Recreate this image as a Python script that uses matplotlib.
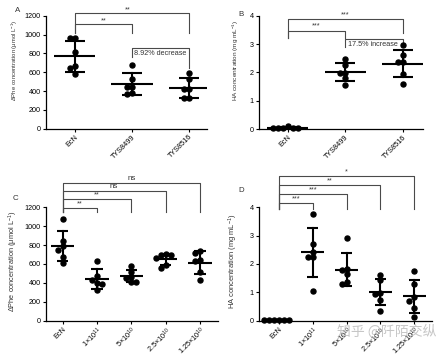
import matplotlib
matplotlib.use('Agg')
import matplotlib.pyplot as plt
import numpy as np

plt.rcParams['font.family'] = ['Liberation Sans', 'DejaVu Sans']
plt.rcParams['mathtext.fontset'] = 'custom'
plt.rcParams['mathtext.rm'] = 'Liberation Sans'
plt.rcParams['mathtext.it'] = 'Liberation Sans:italic'
plt.rcParams['mathtext.bf'] = 'Liberation Sans:bold'

# ---------------- data ----------------
strains = ['EcN', 'TYS8499', 'TYS8516']
phe_a = [[960, 960, 810, 670, 640, 580],
         [676, 527, 440, 440, 368, 375],
         [594, 527, 418, 418, 322, 322]]
ha_b = [[0.05, 0.03, 0.03, 0.04, 0.12, 0.03],
        [2.46, 2.26, 1.99, 1.99, 1.81, 1.55],
        [2.97, 2.61, 2.38, 2.38, 1.94, 1.59]]
doses = ['EcN', r'1×10$^{11}$', r'5×10$^{10}$', r'2.5×10$^{10}$', r'1.25×10$^{10}$']
phe_c = [[1076, 847, 794, 748, 671, 607],
         [632, 476, 431, 396, 384, 325],
         [579, 519, 466, 448, 413, 413],
         [705, 690, 690, 590, 560, 660],
         [741, 720, 642, 635, 519, 431]]
ha_d = [[0.02, 0.01, 0.03, 0.02, 0.01, 0.02],
        [3.75, 2.69, 2.43, 2.26, 2.26, 1.06],
        [2.91, 1.79, 1.82, 1.64, 1.28, 1.35],
        [1.61, 1.44, 0.93, 0.97, 0.73, 0.34],
        [1.75, 1.28, 0.85, 0.70, 0.46, 0.12]]
pct_a = '8.92% decrease'
pct_b = '17.5% increase'
sig_a = ['**', '**']
sig_b = ['***', '***']
sig_c = ['**', '**', 'ns', 'ns']
sig_d = ['***', '***', '**', '*']
ylab_phe = r'ΔPhe concentration (μmol L$^{-1}$)'
ylab_ha = r'HA concentration (mg mL$^{-1}$)'

# ---------------- figure ----------------
W, H = 445, 356
fig = plt.figure(figsize=(W / 100, H / 100), dpi=100)

def axes_px(x0, x1, ytop, ybot):
    return fig.add_axes([x0 / W, 1 - ybot / H, (x1 - x0) / W, (ybot - ytop) / H])

FS = 5.2
LINE = '#4a4a4a'
TXT = '#333333'

def style(ax, labels, ylim, yticks):
    ax.set_ylim(*ylim)
    ax.set_yticks(yticks)
    ax.set_xticks(range(len(labels)))
    ax.set_xticklabels(labels, rotation=45, ha='right', rotation_mode='anchor', fontsize=FS)
    ax.tick_params(axis='y', labelsize=FS, length=2.2, width=0.8, pad=1.5)
    ax.tick_params(axis='x', length=2.2, width=0.8, pad=1.2)
    for s in ['top', 'right']:
        ax.spines[s].set_visible(False)
    for s in ['left', 'bottom']:
        ax.spines[s].set_linewidth(0.9)
    ax.patch.set_alpha(0)

def swarm_x(ax, xc, vals, d_px):
    vals = np.asarray(vals, float)
    pts = ax.transData.transform(np.column_stack([np.full(len(vals), xc), vals]))
    order = np.argsort(-vals, kind='stable')
    placed = []
    out = np.zeros(len(vals))
    for i in order:
        px, py = pts[i]
        for k in [0, -1, 1, -2, 2, -3, 3, -4, 4]:
            cx = px + k * d_px
            if all((cx - qx) ** 2 + (py - qy) ** 2 >= (0.95 * d_px) ** 2 for qx, qy in placed):
                break
        placed.append((cx, py))
        out[i] = ax.transData.inverted().transform((cx, py))[0]
    return out

def scatter_panel(ax, groups, mean_hw, cap_hw):
    for i, vals in enumerate(groups):
        m = np.mean(vals)
        sd = np.std(vals, ddof=1)
        ax.plot([i - mean_hw, i + mean_hw], [m, m], color='black', lw=1.5, solid_capstyle='butt', zorder=3)
        ax.plot([i, i], [m - sd, m + sd], color='black', lw=1.5, zorder=3)
        for yy in (m - sd, m + sd):
            ax.plot([i - cap_hw, i + cap_hw], [yy, yy], color='black', lw=1.5, solid_capstyle='butt', zorder=3)
        xs = swarm_x(ax, i, vals, 5.0)
        ax.plot(xs, vals, 'o', color='black', ms=3.6, mec='black', zorder=4, clip_on=False)

def bracket(ax, x0, x1, y, yl, yr):
    ax.plot([x0, x0, x1, x1], [yl, y, y, yr], color=LINE, lw=0.8, clip_on=False, zorder=2)

def label(ax, x, y, t, fs=FS):
    ax.text(x, y, t, ha='center', va='center', fontsize=fs, color=TXT, clip_on=False)

def ylabel_at(ax, text, fs, xp, yp):
    ax.set_ylabel(text, fontsize=fs, color=TXT)
    pos = ax.get_position()
    ax.yaxis.set_label_coords((xp - pos.x0 * W) / (pos.width * W),
                              ((H - yp) - pos.y0 * H) / (pos.height * H))

# ---- A ----
axA = axes_px(45.7, 207, 15.7, 128.7)
axA.set_xlim(-0.51, 2.31)
style(axA, strains, (0, 1200), range(0, 1201, 200))
scatter_panel(axA, phe_a, 0.36, 0.175)
bracket(axA, 0, 2, 1225, 1015, 1015)
bracket(axA, 0, 1, 1111, 1015, 1015)
label(axA, 0.92, 1262, sig_a[1])
label(axA, 0.5, 1146, sig_a[0])
bracket(axA, 1, 2, 860, 764, 644)
axA.text(1.04, 800, pct_a, ha='left', va='center', fontsize=FS, color=TXT)
ylabel_at(axA, ylab_phe, 4.2, 20, 60)

# ---- B ----
axB = axes_px(259, 423, 15.7, 129)
axB.set_xlim(-0.5, 2.35)
style(axB, strains, (0, 4), range(0, 5))
scatter_panel(axB, ha_b, 0.36, 0.175)
bracket(axB, 0, 2, 3.89, 3.2, 3.4)
bracket(axB, 0, 1, 3.47, 3.2, 3.2)
label(axB, 1.0, 4.03, sig_b[1])
label(axB, 0.5, 3.64, sig_b[0])
bracket(axB, 1, 2, 3.17, 2.91, 3.08)
axB.text(1.04, 2.97, pct_b, ha='left', va='center', fontsize=FS, color=TXT)
ylabel_at(axB, ylab_ha, 4.6, 240.7, 60)

# ---- C ----
axC = axes_px(45.7, 218, 207.3, 320.7)
axC.set_xlim(-0.49, 4.52)
style(axC, doses, (0, 1200), range(0, 1201, 200))
scatter_panel(axC, phe_c, 0.34, 0.165)
c_levels = [1196, 1285, 1372, 1460]
c_text = [1240, 1330, 1420, 1500]
for k in range(4):
    bracket(axC, 0, k + 1, c_levels[k], 1147, 1147)
    label(axC, (k + 1) / 2, c_text[k], sig_c[k], fs=FS + 0.6 if sig_c[k] == 'ns' else FS)
ylabel_at(axC, ylab_phe, 5.3, 20, 261)

# ---- D ----
axD = axes_px(259, 432, 207.3, 320.7)
axD.set_xlim(-0.59, 4.53)
style(axD, doses, (0, 4), range(0, 5))
scatter_panel(axD, ha_d, 0.34, 0.165)
d_levels = [4.16, 4.46, 4.79, 5.11]
d_text = [4.3, 4.6, 4.93, 5.25]
for k in range(4):
    bracket(axD, 0, k + 1, d_levels[k], 3.93, 3.93)
    label(axD, (k + 1) / 2, d_text[k], sig_d[k])
ylabel_at(axD, ylab_ha, 5.4, 240, 261)

# panel letters
for t, (x, y) in zip('ABCD', [(18, 11), (241, 14), (15, 198), (241, 190)]):
    fig.text(x / W, 1 - y / H, t, fontsize=FS + 0.5, ha='center', va='center', color=TXT)

# watermark
fig.text(337 / W, 1 - 332 / H, '知乎 @阡陌交纵', fontsize=10, color='#b8b8b8', alpha=0.8,
         ha='left', va='center', family=['Noto Sans CJK SC', 'DejaVu Sans'], zorder=10)

fig.savefig('out.png', dpi=100, facecolor='white')
